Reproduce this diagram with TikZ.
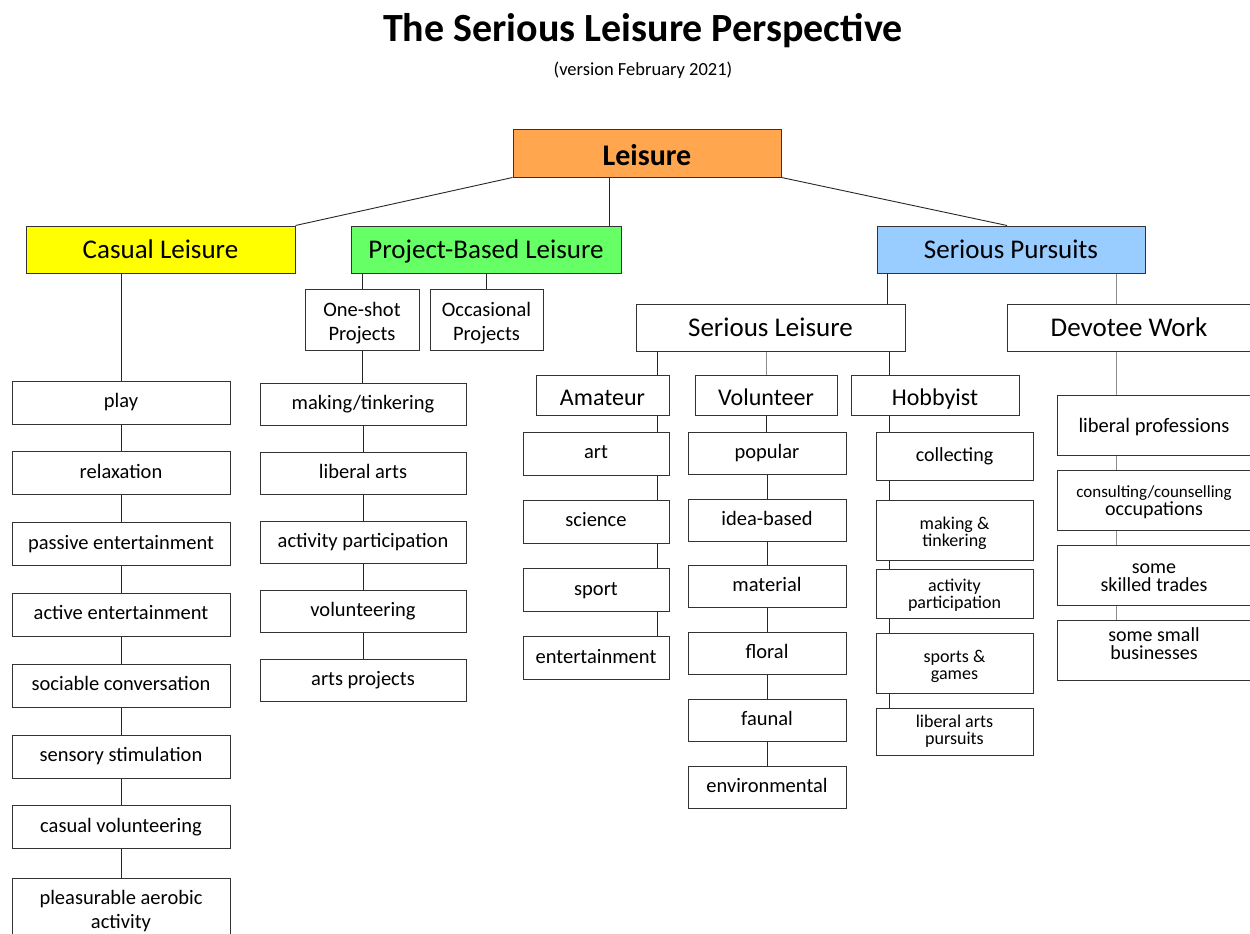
\documentclass[tikz,border=0pt]{standalone}
\usepackage{fontspec}
\setmainfont{Carlito}
\usepackage{tikz}
\usetikzlibrary{positioning}
\definecolor{leisureorange}{HTML}{FFA64F}
\definecolor{casualyellow}{HTML}{FFFF00}
\definecolor{projectgreen}{HTML}{66FF66}
\definecolor{seriousblue}{HTML}{99CCFF}
\tikzstyle{box} = [rectangle, draw=black!80, line width=1pt, align=center, inner sep=0pt, text centered]
\tikzstyle{branch} = [box, minimum width=269pt, minimum height=47pt, text height=21.5pt, text depth=4pt, font=\fontsize{27}{31}\selectfont]
\tikzstyle{kind} = [box, minimum height=40pt, text height=22pt, text depth=2pt, font=\fontsize{24}{28}\selectfont]
\tikzstyle{item} = [box, on grid, font=\fontsize{20.5}{24}\selectfont]
\tikzstyle{oneline} = [text height=14.5pt, text depth=4.5pt]
\tikzstyle{twoline} = [text depth=0pt]
\tikzstyle{link} = [draw=black!85, line width=0.9pt]
\tikzstyle{greylink} = [draw=black!45, line width=0.9pt]

\begin{document}
\begin{tikzpicture}[x=1pt, y=-1pt]
    \useasboundingbox (0,0) rectangle (1250,934);

    % Styles
    \tikzstyle{casualitem} = [item, minimum width=218pt, minimum height=43pt, node distance=70.8pt]
    \tikzstyle{projectitem} = [item, oneline, minimum width=206pt, minimum height=42pt, node distance=69pt]
    \tikzstyle{amateuritem} = [item, oneline, minimum width=146pt, minimum height=43pt, node distance=68.3pt]
    \tikzstyle{volunteeritem} = [item, oneline, minimum width=158pt, minimum height=42pt, node distance=66.7pt]
    \tikzstyle{hobbyitem} = [item, twoline, minimum width=157pt, font=\fontsize{18}{17}\selectfont]
    \tikzstyle{devoteeitem} = [item, twoline, minimum width=194pt, minimum height=60pt, node distance=75pt, font=\fontsize{20}{18}\selectfont]

    % Title
    \node (title) [anchor=base, font=\fontsize{40}{44}\selectfont\bfseries] at (643,42) {The Serious Leisure Perspective};
    \node (version) [anchor=base, font=\fontsize{18.5}{22}\selectfont] at (643,76) {(version February 2021)};

    % Nodes
    \node (leisure) [box, minimum width=268pt, minimum height=48pt, text height=27pt, text depth=3pt, fill=leisureorange, font=\fontsize{30}{34}\selectfont\bfseries] at (647,153) {Leisure};
    \node (casual) [branch, fill=casualyellow] at (160.5,249.5) {Casual Leisure};
    \node (project) [branch, minimum width=270pt, fill=projectgreen] at (486,249.5) {Project-Based Leisure};
    \node (pursuits) [branch, minimum width=268pt, fill=seriousblue] at (1011,249.5) {Serious Pursuits};

    \node (play) [casualitem, oneline] at (121,402.5) {play};
    \node (relax) [casualitem, oneline, below=of play] {relaxation};
    \node (passive) [casualitem, oneline, below=of relax] {passive entertainment};
    \node (active) [casualitem, oneline, below=of passive] {active entertainment};
    \node (sociable) [casualitem, oneline, below=of active] {sociable conversation};
    \node (sensory) [casualitem, oneline, below=of sociable] {sensory stimulation};
    \node (casualvol) [casualitem, oneline, below=of sensory] {casual volunteering};
    \node (aerobic) [casualitem, twoline, minimum height=68pt, text height=32.9pt] at (121,912) {pleasurable aerobic\\activity};

    \node (oneshot) [item, twoline, minimum width=114pt, minimum height=61pt, text height=40.9pt] at (362,320) {One-shot\\Projects};
    \node (occasional) [item, twoline, minimum width=113pt, minimum height=61pt, text height=40.9pt] at (486.5,320) {Occasional\\Projects};
    \node (making) [projectitem] at (363,404) {making/tinkering};
    \node (liberal) [projectitem, below=of making] {liberal arts};
    \node (participation) [projectitem, below=of liberal] {activity participation};
    \node (volunteering) [projectitem, below=of participation] {volunteering};
    \node (arts) [projectitem, below=of volunteering] {arts projects};

    \node (serleis) [branch, fill=white] at (770.5,328) {Serious Leisure};
    \node (devotee) [branch, minimum width=244pt, fill=white] at (1129,328) {Devotee Work};

    \node (amateur) [kind, minimum width=133pt] at (602.5,395) {Amateur};
    \node (volunteer) [kind, minimum width=142pt] at (766,395) {Volunteer};
    \node (hobbyist) [kind, minimum width=168pt] at (935,395) {Hobbyist};

    \node (art) [amateuritem] at (596,453.5) {art};
    \node (science) [amateuritem, below=of art] {science};
    \node (sport) [amateuritem, below=of science] {sport};
    \node (entertainment) [amateuritem, below=of sport] {entertainment};

    \node (popular) [volunteeritem] at (767,453.5) {popular};
    \node (idea) [volunteeritem, below=of popular] {idea-based};
    \node (material) [volunteeritem, below=of idea] {material};
    \node (floral) [volunteeritem, below=of material] {floral};
    \node (faunal) [volunteeritem, below=of floral] {faunal};
    \node (environmental) [volunteeritem, below=of faunal] {environmental};

    \node (collecting) [hobbyitem, oneline, minimum height=48pt, font=\fontsize{20}{24}\selectfont] at (954.5,456) {collecting};
    \node (tinkering) [hobbyitem, minimum height=60pt, text height=32.3pt] at (954.5,530) {making \&\\tinkering};
    \node (hobbypart) [hobbyitem, minimum height=49pt, text height=29.3pt] at (954.5,593.5) {activity\\participation};
    \node (games) [hobbyitem, minimum height=60pt, text height=32.3pt] at (954.5,663) {sports \&\\games};
    \node (pursuit) [hobbyitem, minimum height=47pt, text height=25.3pt] at (954.5,731.5) {liberal arts\\pursuits};

    \node (professions) [devoteeitem, oneline, text height=17pt, text depth=3pt, font=\fontsize{20.5}{24}\selectfont] at (1154,425) {liberal professions};
    \node (consulting) [devoteeitem, below=of professions, text height=30.6pt] {{\fontsize{17}{18}\selectfont consulting/counselling}\\occupations};
    \node (trades) [devoteeitem, below=of consulting, text height=33.6pt] {some\\skilled trades};
    \node (business) [devoteeitem, below=of trades, text height=18.6pt] {some small\\businesses};

    % Connectors
    \draw [link] (leisure.south west) -- (casual.north east);
    \draw [link] ([xshift=-38pt]leisure.south) -- ([xshift=123pt]project.north);
    \draw [link] (leisure.south east) -- ([xshift=-4pt]pursuits.north);

    \draw [link] (play.north |- casual.south) -- (play.north);
    \draw [link] (play) -- (relax);
    \draw [link] (relax) -- (passive);
    \draw [link] (passive) -- (active);
    \draw [link] (active) -- (sociable);
    \draw [link] (sociable) -- (sensory);
    \draw [link] (sensory) -- (casualvol);
    \draw [link] (casualvol.south) -- (casualvol.south |- aerobic.north);

    \draw [link] (oneshot.north |- project.south) -- (oneshot.north);
    \draw [link] (occasional.north |- project.south) -- (occasional.north);
    \draw [link] (oneshot.south) -- (oneshot.south |- making.north);
    \draw [link] (making) -- (liberal);
    \draw [link] (liberal) -- (participation);
    \draw [link] (participation) -- (volunteering);
    \draw [link] (volunteering) -- (arts);

    \draw [link] ([xshift=11pt]pursuits.south west) -- ([xshift=11pt]pursuits.south west |- serleis.north);
    \draw [greylink] ([xshift=-29pt]pursuits.south east) -- ([xshift=-29pt]pursuits.south east |- devotee.north);

    \draw [link] ([xshift=-12pt]amateur.north east |- serleis.south) -- ([xshift=-12pt]amateur.north east);
    \draw [greylink] (volunteer.north |- serleis.south) -- (volunteer.north);
    \draw [link] ([xshift=14pt]collecting.north west |- serleis.south) -- ([xshift=14pt]collecting.north west |- hobbyist.north);

    \draw [link] ([xshift=-12pt]amateur.south east) -- ([xshift=-12pt]art.north east);
    \draw [link] ([xshift=-12pt]art.south east) -- ([xshift=-12pt]science.north east);
    \draw [link] ([xshift=-12pt]science.south east) -- ([xshift=-12pt]sport.north east);
    \draw [link] ([xshift=-12pt]sport.south east) -- ([xshift=-12pt]entertainment.north east);

    \draw [link] (volunteer.south) -- (volunteer.south |- popular.north);
    \draw [link] (popular) -- (idea);
    \draw [link] (idea) -- (material);
    \draw [link] (material) -- (floral);
    \draw [link] (floral) -- (faunal);
    \draw [link] (faunal) -- (environmental);

    \draw [link] ([xshift=14pt]collecting.north west |- hobbyist.south) -- ([xshift=14pt]collecting.north west);
    \draw [link] ([xshift=14pt]collecting.south west) -- ([xshift=14pt]tinkering.north west);
    \draw [link] ([xshift=14pt]tinkering.south west) -- ([xshift=14pt]hobbypart.north west);
    \draw [link] ([xshift=14pt]hobbypart.south west) -- ([xshift=14pt]games.north west);
    \draw [link] ([xshift=14pt]games.south west) -- ([xshift=14pt]pursuit.north west);

    \draw [greylink] ([xshift=-38pt]professions.north |- devotee.south) -- ([xshift=-38pt]professions.north);
    \draw [greylink] ([xshift=-38pt]professions.south) -- ([xshift=-38pt]consulting.north);
    \draw [greylink] ([xshift=-38pt]consulting.south) -- ([xshift=-38pt]trades.north);
    \draw [greylink] ([xshift=-38pt]trades.south) -- ([xshift=-38pt]business.north);

\end{tikzpicture}
\end{document}
